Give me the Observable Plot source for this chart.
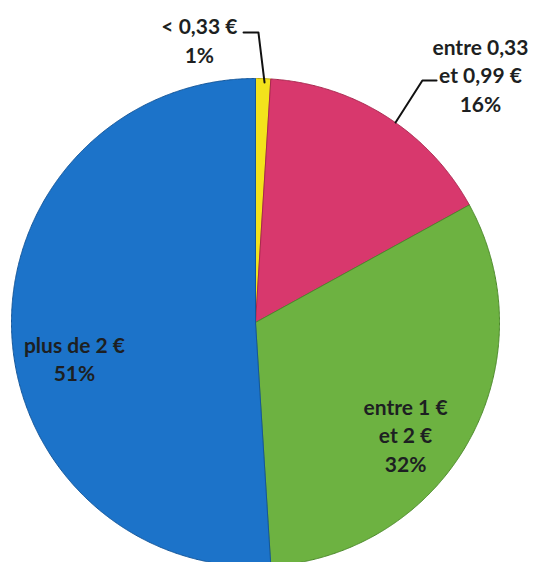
<!DOCTYPE html>
<html>
<head>
<meta charset="utf-8">
<script src="https://cdn.jsdelivr.net/npm/d3@7"></script>
<script src="https://cdn.jsdelivr.net/npm/@observablehq/plot@0.6"></script>
<style>
  html, body { margin: 0; padding: 0; background: #ffffff; overflow: hidden; }
  #chart { width: 536px; height: 562px; }
</style>
</head>
<body>
<div id="chart"></div>
<script>
// ---- Data ----
const categories = ["< 0,33 €", "entre 0,33 et 0,99 €", "entre 1 € et 2 €", "plus de 2 €"];
const shares = [1, 16, 32, 51];
const labelLines = [
  ["< 0,33 €", "1%"],
  ["entre 0,33", "et 0,99 €", "16%"],
  ["entre 1 €", "et 2 €", "32%"],
  ["plus de 2 €", "51%"]
];

// ---- Style / layout (kept separate from data) ----
const sliceColors = ["#f3e21c", "#d8386d", "#6db241", "#1c73c9"];
const sliceEdges = ["#b9a810", "#a8284f", "#4d8a2c", "#15579a"];
// label anchor positions in unit-circle coordinates
const labelAnchors = [[-0.230, 1.160], [0.922, 1.018], [0.615, -0.457], [-0.742, -0.145]];
const leaderPaths = [
  [[-0.049, 1.189], [0.012, 1.189], [0.037, 0.984]],
  [[0.742, 0.992], [0.684, 0.992], [0.574, 0.820]]
];

// ---- Build slices with d3.pie ----
const arcs = d3.pie().sort(null).value(d => d)(shares);
const slicePoints = [];
arcs.forEach((a, i) => {
  const name = categories[i];
  slicePoints.push({name, i, u: 0, v: 0});
  const steps = Math.max(4, Math.ceil((a.endAngle - a.startAngle) / 0.005));
  for (let k = 0; k <= steps; k++) {
    const t = a.startAngle + (a.endAngle - a.startAngle) * k / steps;
    slicePoints.push({name, i, u: Math.sin(t), v: Math.cos(t)});
  }
  slicePoints.push({name, i, u: 0, v: 0});
});

const labels = labelLines.map((lines, i) => ({
  text: lines.join("\n"),
  u: labelAnchors[i][0],
  v: labelAnchors[i][1]
}));
const leaders = leaderPaths.flatMap((p, j) => p.map(([u, v]) => ({j, u, v})));

const cx = 255, cy = 322, r = 244;
const chart = Plot.plot({
  width: 536,
  height: 562,
  margin: 0,
  style: {background: "#ffffff", overflow: "hidden"},
  x: {domain: [-1, 1], range: [cx - r, cx + r], axis: null},
  y: {domain: [-1, 1], range: [cy + r, cy - r], axis: null},
  color: {domain: categories, range: sliceColors},
  marks: [
    Plot.line(slicePoints, {
      x: "u", y: "v", z: "name",
      fill: "name",
      stroke: d => sliceEdges[d.i],
      strokeWidth: 1,
      curve: "linear"
    }),
    Plot.line(leaders, {
      x: "u", y: "v", z: "j",
      stroke: "#111111", strokeWidth: 2, curve: "linear"
    }),
    Plot.text(labels, {
      x: "u", y: "v", text: "text",
      fontFamily: "Lato, 'Open Sans', sans-serif",
      fontWeight: "bold",
      fontSize: 21,
      lineHeight: 1.36,
      fill: "#1d1f22",
      textAnchor: "middle",
      lineAnchor: "middle"
    })
  ]
});
document.getElementById("chart").appendChild(chart);
</script>
</body>
</html>
